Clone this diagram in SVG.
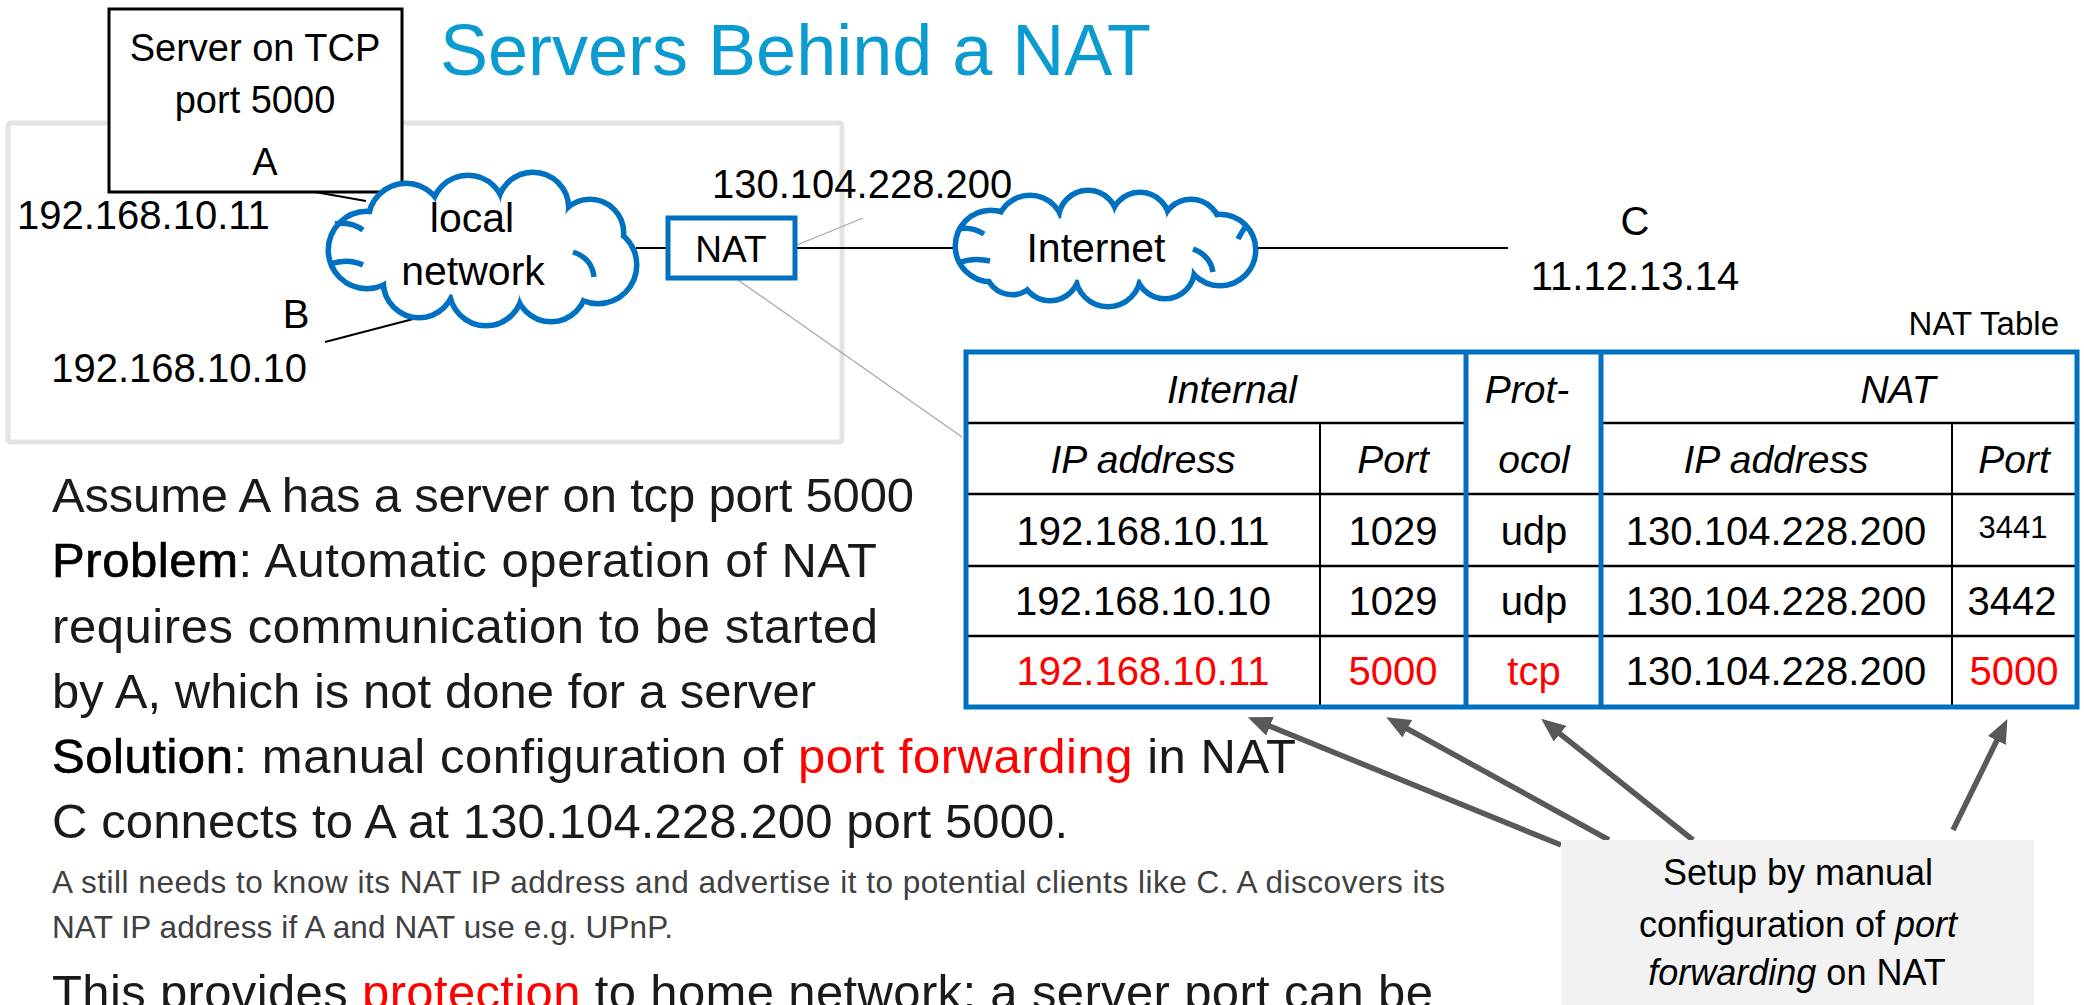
<svg xmlns="http://www.w3.org/2000/svg" xmlns:xlink="http://www.w3.org/1999/xlink" width="2084" height="1005" viewBox="0 0 2084 1005">
<style>
text{font-family:"Liberation Sans",Arial,sans-serif;fill:#000}
.lbl{font-size:40px}
.title{font-size:72px;fill:#0a9bd0}
.body{font-size:49px;fill:#1a1a1a}
.small{font-size:31.5px;fill:#404040}
.red{fill:#ff0000}
.it{font-style:italic}
.hd{font-size:39px;font-style:italic}
.td{font-size:40px}
.mid{text-anchor:middle}
.end{text-anchor:end}
.key{fill:#000;stroke:#000;stroke-width:0.7}
.conn{stroke:#000;stroke-width:2;fill:none}
.thin{stroke:#a6a6a6;stroke-width:1.3;fill:none}
.arrow{stroke:#595959;stroke-width:5.5;fill:none;marker-end:url(#ah)}
.cstroke{fill:none;stroke:#0070c0;stroke-width:11}
.cfill{fill:#fff;stroke:none}
.carc{fill:none;stroke:#0070c0;stroke-width:5.5}
.blue{stroke:#0070c0;stroke-width:5;fill:none}
.blk{stroke:#000;stroke-width:2.5}
.blkv{stroke:#000;stroke-width:2}
</style>
<defs>
<marker id="ah" viewBox="0 0 24 20" refX="14" refY="10" markerWidth="24" markerHeight="20" markerUnits="userSpaceOnUse" orient="auto">
<path d="M0,0 L24,10 L0,20 z" fill="#595959"/>
</marker>
<g id="lc-shape">
<circle cx="367" cy="250" r="36"/>
<circle cx="406" cy="221" r="35"/>
<circle cx="468" cy="212" r="34"/>
<circle cx="533" cy="208" r="33"/>
<circle cx="590" cy="233" r="31"/>
<circle cx="598" cy="265" r="36"/>
<circle cx="551" cy="286" r="33"/>
<circle cx="486" cy="289" r="34"/>
<circle cx="419" cy="282" r="33"/>
<ellipse cx="481" cy="250" rx="118" ry="46"/>
</g>
<g id="ic-shape">
<circle cx="991" cy="246" r="33"/>
<circle cx="1030" cy="229" r="31"/>
<circle cx="1088" cy="220" r="27"/>
<circle cx="1140" cy="222" r="27"/>
<circle cx="1191" cy="229" r="27"/>
<circle cx="1220" cy="250" r="33"/>
<circle cx="1165" cy="269" r="27"/>
<circle cx="1108" cy="274" r="30"/>
<circle cx="1050" cy="271" r="27"/>
<circle cx="1012" cy="268" r="24"/>
<ellipse cx="1106" cy="248" rx="103" ry="33"/>
</g>
</defs>
<rect width="2084" height="1005" fill="#fff"/>

<g id="home-area">
<rect x="8" y="123" width="834" height="319" rx="3" fill="none" stroke="#e3e3e3" stroke-width="5"/>
</g>

<g id="title">
<text class="title" x="440" y="75">Servers Behind a NAT</text>
</g>

<g id="connectors">
<line class="conn" x1="315" y1="192" x2="366" y2="201"/>
<line class="conn" x1="325" y1="342" x2="440" y2="312"/>
<line class="conn" x1="636" y1="248" x2="668" y2="248"/>
<line class="conn" x1="797" y1="248" x2="956" y2="248"/>
<line class="conn" x1="1256" y1="248" x2="1508" y2="248"/>
<line class="thin" x1="797" y1="245" x2="863" y2="218"/>
<line class="thin" x1="738" y1="280" x2="962" y2="437"/>
<path class="arrow" d="M1561,845 L1257,721"/>
<path class="arrow" d="M1609,840 L1395,722"/>
<path class="arrow" d="M1693,840 L1549,725"/>
<path class="arrow" d="M1953,830 L2003,728"/>
</g>

<g id="server-A">
<rect x="109" y="9" width="293" height="183" fill="#fff" stroke="#000" stroke-width="3"/>
<text class="lbl mid" x="255" y="61" style="font-size:38px">Server on TCP</text>
<text class="lbl mid" x="255" y="113" style="font-size:38px">port 5000</text>
<text class="lbl mid" x="265" y="175" style="font-size:38px">A</text>
<text class="lbl" x="17" y="229">192.168.10.11</text>
</g>

<g id="host-B">
<text class="lbl mid" x="296" y="328">B</text>
<text class="lbl end" x="307" y="382">192.168.10.10</text>
</g>

<g id="local-network">
<use xlink:href="#lc-shape" class="cstroke"/>
<use xlink:href="#lc-shape" class="cfill"/>
<path class="carc" d="M335,224 Q350,221 363,230"/>
<path class="carc" d="M330,264 Q348,258 363,265"/>
<path class="carc" d="M573,252 Q592,258 594,277"/>
<text class="lbl mid" x="472" y="232" style="font-size:41px">local</text>
<text class="lbl mid" x="473" y="285" style="font-size:41px">network</text>
</g>

<g id="nat">
<rect x="668" y="218" width="127" height="60" fill="#fff" stroke="#0070c0" stroke-width="5"/>
<text class="lbl mid" x="731" y="262" style="font-size:37px">NAT</text>
<text class="lbl" x="712" y="198">130.104.228.200</text>
</g>

<g id="internet">
<use xlink:href="#ic-shape" class="cstroke"/>
<use xlink:href="#ic-shape" class="cfill"/>
<path class="carc" d="M958,229 Q971,226 984,234"/>
<path class="carc" d="M958,263 Q973,257 990,261"/>
<path class="carc" d="M1193,249 Q1210,255 1213,272"/>
<path class="carc" d="M1246,226 Q1241,233 1238,239"/>
<text class="lbl mid" x="1096" y="262" style="font-size:41px">Internet</text>
</g>

<g id="host-C">
<text class="lbl mid" x="1635" y="235">C</text>
<text class="lbl mid" x="1635" y="290">11.12.13.14</text>
</g>

<g id="nat-table">
<text class="end" x="2059" y="335" style="font-size:33px">NAT Table</text>
<rect x="966" y="352" width="1111" height="355" fill="#fff"/>
<line class="blk" x1="966" y1="423" x2="1466" y2="423"/>
<line class="blk" x1="1601" y1="423" x2="2077" y2="423"/>
<line class="blk" x1="966" y1="494" x2="2077" y2="494"/>
<line class="blk" x1="966" y1="566" x2="2077" y2="566"/>
<line class="blk" x1="966" y1="636" x2="2077" y2="636"/>
<line class="blkv" x1="1320" y1="423" x2="1320" y2="707"/>
<line class="blkv" x1="1952" y1="423" x2="1952" y2="707"/>
<line class="blue" x1="1466" y1="352" x2="1466" y2="707"/>
<line class="blue" x1="1601" y1="352" x2="1601" y2="707"/>
<rect class="blue" x="966" y="352" width="1111" height="355"/>
<text class="hd mid" x="1232" y="403">Internal</text>
<text class="hd mid" x="1527" y="403">Prot-</text>
<text class="hd mid" x="1898" y="403">NAT</text>
<text class="hd mid" x="1143" y="473">IP address</text>
<text class="hd mid" x="1393" y="473">Port</text>
<text class="hd mid" x="1534" y="473">ocol</text>
<text class="hd mid" x="1776" y="473">IP address</text>
<text class="hd mid" x="2014" y="473">Port</text>
<text class="td mid" x="1143" y="545">192.168.10.11</text>
<text class="td mid" x="1393" y="545">1029</text>
<text class="td mid" x="1534" y="545">udp</text>
<text class="td mid" x="1776" y="545">130.104.228.200</text>
<text class="mid" x="2013" y="538" style="font-size:31px">3441</text>
<text class="td mid" x="1143" y="615">192.168.10.10</text>
<text class="td mid" x="1393" y="615">1029</text>
<text class="td mid" x="1534" y="615">udp</text>
<text class="td mid" x="1776" y="615">130.104.228.200</text>
<text class="td mid" x="2012" y="615">3442</text>
<text class="td mid red" x="1143" y="685">192.168.10.11</text>
<text class="td mid red" x="1393" y="685">5000</text>
<text class="td mid red" x="1534" y="685">tcp</text>
<text class="td mid" x="1776" y="685">130.104.228.200</text>
<text class="td mid red" x="2014" y="685">5000</text>
</g>

<g id="callout">
<rect x="1561" y="840" width="473" height="170" fill="#f2f2f2"/>
<text class="mid" x="1798" y="885" style="font-size:36px">Setup by manual</text>
<text class="mid" x="1798" y="937" style="font-size:36px">configuration of <tspan class="it">port</tspan></text>
<text class="mid" x="1797" y="985" style="font-size:36px"><tspan class="it">forwarding</tspan> on NAT</text>
</g>

<g id="body-text">
<text class="body" x="52" y="512" textLength="862" lengthAdjust="spacing">Assume A has a server on tcp port 5000</text>
<text class="body" x="52" y="577" textLength="825" lengthAdjust="spacing"><tspan class="key">Problem</tspan>: Automatic operation of NAT</text>
<text class="body" x="52" y="643" textLength="826" lengthAdjust="spacing">requires communication to be started</text>
<text class="body" x="52" y="708" textLength="764" lengthAdjust="spacing">by A, which is not done for a server</text>
<text class="body" x="52" y="773" textLength="1244" lengthAdjust="spacing"><tspan class="key">Solution</tspan>: manual configuration of <tspan class="red">port forwarding</tspan> in NAT</text>
<text class="body" x="52" y="838" textLength="1016" lengthAdjust="spacing">C connects to A at 130.104.228.200 port 5000.</text>
<text class="small" x="52" y="893" textLength="1393" lengthAdjust="spacing">A still needs to know its NAT IP address and advertise it to potential clients like C. A discovers its</text>
<text class="small" x="52" y="938" textLength="621" lengthAdjust="spacing">NAT IP address if A and NAT use e.g. UPnP.</text>
<text class="body" x="52" y="1009" textLength="1381" lengthAdjust="spacing">This provides <tspan class="red">protection</tspan> to home network; a server port can be</text>
</g>
</svg>
